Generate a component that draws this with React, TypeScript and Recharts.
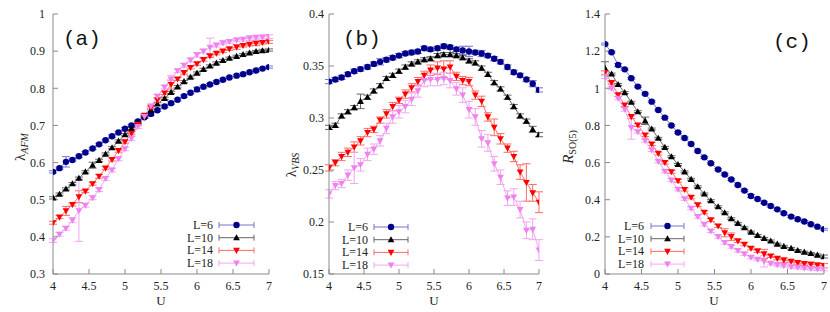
import React from "react";
import { ComposedChart, Line, XAxis, YAxis, ErrorBar } from "recharts";

// U grid (34 points from 4 to 7)
const U = [
  4.0, 4.09, 4.18, 4.27, 4.36, 4.45, 4.55, 4.64, 4.73, 4.82, 4.91, 5.0, 5.09, 5.18, 5.27, 5.36, 5.45,
  5.55, 5.64, 5.73, 5.82, 5.91, 6.0, 6.09, 6.18, 6.27, 6.36, 6.45, 6.55, 6.64, 6.73, 6.82, 6.91, 7.0,
];
const U_TICKS = [4, 4.5, 5, 5.5, 6, 6.5, 7];

// (a) lambda_AFM
const afm6 = [0.575,0.585,0.602,0.607,0.617,0.627,0.638,0.649,0.660,0.671,0.681,0.691,0.700,0.711,0.722,0.731,0.741,0.751,0.760,0.769,0.779,0.788,0.797,0.804,0.810,0.817,0.823,0.829,0.834,0.838,0.843,0.848,0.853,0.857];
const afm10 = [0.505,0.515,0.529,0.543,0.558,0.575,0.593,0.606,0.623,0.640,0.658,0.675,0.692,0.708,0.724,0.741,0.758,0.773,0.789,0.804,0.818,0.830,0.841,0.851,0.860,0.868,0.875,0.881,0.886,0.891,0.895,0.899,0.901,0.903];
const afm14 = [0.438,0.453,0.470,0.487,0.508,0.523,0.543,0.563,0.585,0.608,0.632,0.656,0.679,0.703,0.727,0.748,0.768,0.787,0.810,0.825,0.842,0.856,0.866,0.877,0.887,0.894,0.900,0.906,0.911,0.915,0.918,0.921,0.923,0.925];
const afm18 = [0.390,0.407,0.423,0.445,0.470,0.485,0.505,0.527,0.557,0.580,0.610,0.637,0.665,0.697,0.724,0.752,0.778,0.803,0.825,0.847,0.862,0.876,0.890,0.900,0.910,0.916,0.922,0.926,0.930,0.932,0.935,0.937,0.938,0.939];
const afmErr6 = [0.003,0.003,0.014,0.003,0.003,0.003,0.003,0.003,0.003,0.003,0.003,0.003,0.003,0.003,0.003,0.003,0.003,0.003,0.003,0.003,0.003,0.003,0.006,0.003,0.003,0.003,0.003,0.003,0.003,0.003,0.003,0.003,0.003,0.003];
const afmErr10 = [0.003,0.003,0.003,0.003,0.003,0.003,0.008,0.003,0.003,0.003,0.003,0.003,0.003,0.003,0.003,0.003,0.003,0.003,0.003,0.003,0.003,0.003,0.003,0.003,0.003,0.003,0.003,0.003,0.003,0.003,0.003,0.003,0.004,0.003];
const afmErr14 = [0.004,0.004,0.012,0.004,0.016,0.004,0.004,0.005,0.004,0.004,0.004,0.004,0.004,0.004,0.004,0.004,0.006,0.004,0.012,0.004,0.004,0.004,0.004,0.004,0.004,0.004,0.004,0.004,0.006,0.004,0.004,0.006,0.004,0.004];
const afmErr18 = [0.005,0.005,0.005,0.006,0.082,0.005,0.005,0.005,0.005,0.005,0.005,0.005,0.005,0.005,0.005,0.005,0.006,0.005,0.010,0.005,0.005,0.005,0.006,0.005,0.025,0.005,0.005,0.005,0.005,0.005,0.006,0.005,0.005,0.005];
const AFM_TICKS = [0.3, 0.4, 0.5, 0.6, 0.7, 0.8, 0.9, 1];

// (b) lambda_VBS
const vbs6 = [0.335,0.337,0.339,0.342,0.345,0.347,0.349,0.352,0.354,0.356,0.358,0.360,0.362,0.363,0.364,0.367,0.366,0.367,0.369,0.368,0.366,0.365,0.364,0.363,0.362,0.360,0.357,0.354,0.349,0.344,0.341,0.337,0.333,0.327];
const vbs10 = [0.291,0.293,0.302,0.306,0.310,0.316,0.320,0.326,0.331,0.338,0.341,0.345,0.349,0.352,0.354,0.356,0.357,0.360,0.361,0.361,0.360,0.358,0.355,0.353,0.348,0.342,0.334,0.328,0.320,0.311,0.302,0.297,0.289,0.284];
const vbs14 = [0.252,0.257,0.263,0.267,0.272,0.278,0.286,0.289,0.298,0.304,0.311,0.317,0.323,0.329,0.335,0.341,0.346,0.348,0.347,0.349,0.340,0.336,0.335,0.322,0.316,0.301,0.291,0.280,0.271,0.263,0.248,0.238,0.228,0.219];
const vbs18 = [0.227,0.235,0.237,0.245,0.252,0.255,0.265,0.270,0.278,0.290,0.301,0.306,0.311,0.318,0.326,0.336,0.337,0.337,0.338,0.336,0.328,0.322,0.308,0.301,0.280,0.276,0.256,0.243,0.223,0.224,0.212,0.192,0.193,0.173];
const vbsErr6 = [0.002,0.002,0.002,0.002,0.002,0.002,0.002,0.002,0.003,0.002,0.002,0.002,0.002,0.002,0.002,0.002,0.002,0.002,0.002,0.002,0.002,0.004,0.005,0.002,0.003,0.002,0.002,0.002,0.002,0.002,0.002,0.002,0.003,0.002];
const vbsErr10 = [0.002,0.002,0.002,0.002,0.002,0.007,0.002,0.002,0.002,0.002,0.002,0.002,0.002,0.002,0.002,0.002,0.002,0.002,0.002,0.002,0.002,0.002,0.002,0.002,0.002,0.002,0.002,0.002,0.002,0.002,0.002,0.002,0.003,0.002];
const vbsErr14 = [0.003,0.003,0.004,0.004,0.005,0.004,0.004,0.003,0.003,0.004,0.004,0.003,0.004,0.004,0.004,0.004,0.005,0.006,0.008,0.006,0.004,0.004,0.004,0.004,0.005,0.004,0.008,0.005,0.004,0.005,0.007,0.018,0.008,0.010];
const vbsErr18 = [0.004,0.004,0.004,0.005,0.015,0.006,0.006,0.005,0.005,0.005,0.006,0.006,0.006,0.006,0.006,0.006,0.006,0.006,0.006,0.007,0.006,0.007,0.008,0.008,0.008,0.008,0.007,0.007,0.007,0.008,0.008,0.008,0.010,0.010];
const VBS_TICKS = [0.15, 0.2, 0.25, 0.3, 0.35, 0.4];

// (c) R_SO(5)
const rso6 = [1.238,1.194,1.125,1.102,1.054,1.009,0.970,0.928,0.883,0.842,0.800,0.762,0.732,0.700,0.662,0.628,0.596,0.563,0.536,0.509,0.479,0.449,0.420,0.404,0.384,0.366,0.348,0.327,0.309,0.295,0.283,0.268,0.255,0.241];
const rso10 = [1.108,1.077,1.021,0.977,0.925,0.874,0.825,0.781,0.731,0.682,0.632,0.590,0.550,0.510,0.470,0.431,0.395,0.362,0.330,0.298,0.273,0.249,0.226,0.208,0.192,0.178,0.161,0.149,0.138,0.127,0.118,0.111,0.102,0.094];
const rso14 = [1.084,1.030,0.964,0.910,0.847,0.802,0.748,0.700,0.649,0.600,0.550,0.502,0.455,0.413,0.372,0.332,0.291,0.258,0.222,0.201,0.178,0.160,0.138,0.124,0.108,0.097,0.084,0.075,0.068,0.061,0.056,0.052,0.048,0.045];
const rso18 = [1.063,1.000,0.946,0.887,0.788,0.766,0.718,0.668,0.606,0.553,0.505,0.456,0.405,0.354,0.309,0.267,0.231,0.201,0.169,0.147,0.126,0.108,0.090,0.079,0.068,0.057,0.050,0.045,0.039,0.036,0.032,0.029,0.027,0.025];
const rsoErr6 = [0.005,0.005,0.008,0.005,0.005,0.005,0.005,0.005,0.005,0.005,0.005,0.005,0.005,0.005,0.005,0.005,0.005,0.005,0.005,0.005,0.005,0.005,0.008,0.005,0.005,0.005,0.005,0.005,0.005,0.005,0.005,0.005,0.005,0.005];
const rsoErr10 = [0.035,0.005,0.005,0.005,0.005,0.005,0.020,0.005,0.005,0.005,0.005,0.005,0.005,0.005,0.005,0.005,0.005,0.005,0.005,0.005,0.005,0.005,0.005,0.005,0.005,0.005,0.005,0.005,0.005,0.005,0.005,0.005,0.006,0.008];
const rsoErr14 = [0.010,0.008,0.008,0.008,0.010,0.008,0.008,0.008,0.008,0.008,0.008,0.008,0.008,0.008,0.008,0.008,0.008,0.008,0.022,0.020,0.008,0.008,0.008,0.008,0.025,0.008,0.008,0.012,0.008,0.008,0.010,0.012,0.012,0.012];
const rsoErr18 = [0.010,0.008,0.008,0.010,0.062,0.008,0.008,0.008,0.008,0.008,0.008,0.008,0.008,0.008,0.008,0.008,0.008,0.008,0.008,0.008,0.008,0.008,0.008,0.008,0.030,0.008,0.008,0.008,0.008,0.008,0.008,0.008,0.008,0.008];
const RSO_TICKS = [0, 0.2, 0.4, 0.6, 0.8, 1, 1.2, 1.4];

const LEGEND_NAMES = ["L=6", "L=10", "L=14", "L=18"];

const STYLES = [
  { marker: "circle", fill: "#00008b", line: "#7575d2" },
  { marker: "up", fill: "#000000", line: "#666666" },
  { marker: "down", fill: "#ff0000", line: "#ff6a6a" },
  { marker: "down", fill: "#ee82ee", line: "#f1a6f1" },
];

const SERIF = "'Liberation Serif', 'DejaVu Serif', serif";
const AXIS = "#8a8a8a";

function Marker({ kind, cx, cy, fill }: { kind: string; cx: number; cy: number; fill: string }) {
  if (kind === "circle") return <circle cx={cx} cy={cy} r={3.2} fill={fill} />;
  if (kind === "up")
    return <polygon points={`${cx},${cy - 3.5} ${cx - 3.4},${cy + 2.6} ${cx + 3.4},${cy + 2.6}`} fill={fill} />;
  return <polygon points={`${cx - 3.4},${cy - 2.6} ${cx + 3.4},${cy - 2.6} ${cx},${cy + 3.5}`} fill={fill} />;
}

const makeDot = (kind: string, fill: string) => (p: any) => {
  const { cx, cy, index } = p;
  if (cx == null || cy == null) return <g key={`d${index}`} />;
  return (
    <g key={`d${index}`}>
      <Marker kind={kind} cx={cx} cy={cy} fill={fill} />
    </g>
  );
};

const PANELS = [
  {
    id: "a", left: 0, width: 280, yw: 53, right: 11, tm: 13,
    domain: [0.3, 1], ticks: AFM_TICKS,
    series: [afm6, afm10, afm14, afm18], errs: [afmErr6, afmErr10, afmErr14, afmErr18],
  },
  {
    id: "b", left: 280, width: 275, yw: 49, right: 16, tm: 10,
    domain: [0.15, 0.4], ticks: VBS_TICKS,
    series: [vbs6, vbs10, vbs14, vbs18], errs: [vbsErr6, vbsErr10, vbsErr14, vbsErr18],
  },
  {
    id: "c", left: 555, width: 275, yw: 50, right: 6, tm: 10,
    domain: [0, 1.4], ticks: RSO_TICKS,
    series: [rso6, rso10, rso14, rso18], errs: [rsoErr6, rsoErr10, rsoErr14, rsoErr18],
  },
];

function Panel({ cfg }: { cfg: any }) {
  const rows = U.map((u, i) => {
    const r: any = { u };
    cfg.series.forEach((s: number[], k: number) => {
      r[`y${k}`] = s[i];
      r[`e${k}`] = cfg.errs[k][i];
    });
    return r;
  });
  const tick = { fontFamily: SERIF, fontSize: 12, fill: "#222" };
  return (
    <div style={{ position: "absolute", left: cfg.left, top: 0 }}>
      <ComposedChart width={cfg.width} height={312} data={rows} margin={{ top: 14, right: cfg.right, bottom: 0, left: 0 }}>
        <XAxis dataKey="u" type="number" domain={[4, 7]} ticks={U_TICKS} interval={0} height={38}
          tickSize={-5} tickMargin={12} stroke={AXIS} tick={tick} allowDataOverflow />
        <XAxis xAxisId="top" orientation="top" dataKey="u" type="number" domain={[4, 7]} ticks={U_TICKS}
          interval={0} height={0} tickSize={-5} tickFormatter={() => ""} stroke={AXIS} allowDataOverflow />
        <YAxis type="number" domain={cfg.domain} ticks={cfg.ticks} interval={0} width={cfg.yw}
          tickSize={-5} tickMargin={cfg.tm} stroke={AXIS} tick={tick} allowDataOverflow />
        <YAxis yAxisId="right" orientation="right" type="number" domain={cfg.domain} ticks={cfg.ticks}
          interval={0} width={0} tickSize={-5} tickFormatter={() => ""} stroke={AXIS} allowDataOverflow />
        {STYLES.map((st, k) => (
          <Line key={k} dataKey={`y${k}`} type="linear" stroke={st.line} strokeWidth={1}
            dot={makeDot(st.marker, st.fill)} activeDot={false} isAnimationActive={false}>
            <ErrorBar dataKey={`e${k}`} width={4} stroke={st.line} strokeWidth={1} direction="y" />
          </Line>
        ))}
      </ComposedChart>
    </div>
  );
}

const LEGENDS = [
  { textRight: 213, x1: 219, x2: 254, rows: [225, 237.7, 250.4, 263.1] },
  { textRight: 368, x1: 374, x2: 408, rows: [227, 239.7, 252.4, 265.1] },
  { textRight: 644, x1: 651, x2: 684, rows: [226, 238.7, 251.4, 264.1] },
];

function Overlay() {
  return (
    <svg width={830} height={312} style={{ position: "absolute", left: 0, top: 0, pointerEvents: "none" }}>
      {/* panel letters */}
      <g fontFamily="'Liberation Mono', 'DejaVu Sans Mono', monospace" fontSize={21} fill="#111">
        <text x={63} y={45}>(a)</text>
        <text x={343} y={45}>(b)</text>
        <text x={773} y={48}>(c)</text>
      </g>
      {/* x titles */}
      <g fontFamily={SERIF} fontSize={13} fill="#222" textAnchor="middle">
        <text x={161} y={305}>U</text>
        <text x={434} y={305}>U</text>
        <text x={714} y={305}>U</text>
      </g>
      {/* y titles */}
      <g fontFamily={SERIF} fill="#222">
        <text x={25} y={147} textAnchor="middle" transform="rotate(-90 25 147)" fontSize={15}>
          λ<tspan fontSize={10} fontStyle="italic" dy={3}>AFM</tspan>
        </text>
        <text x={296} y={165} textAnchor="middle" transform="rotate(-90 296 165)" fontSize={15}>
          λ<tspan fontSize={10} fontStyle="italic" dy={3}>VBS</tspan>
        </text>
        <text x={573} y={147} textAnchor="middle" transform="rotate(-90 573 147)" fontSize={15}>
          <tspan fontStyle="italic">R</tspan>
          <tspan fontSize={10} dy={3}>SO(5)</tspan>
        </text>
      </g>
      {/* legends */}
      {LEGENDS.map((lg, p) => (
        <g key={p}>
          {lg.rows.map((y, k) => {
            const st = STYLES[k];
            const mx = (lg.x1 + lg.x2) / 2;
            return (
              <g key={k}>
                <text x={lg.textRight} y={y + 4} textAnchor="end" fontFamily={SERIF} fontSize={12} fill="#222">
                  {LEGEND_NAMES[k]}
                </text>
                <line x1={lg.x1} x2={lg.x2} y1={y} y2={y} stroke={st.line} strokeWidth={1} />
                <line x1={lg.x1} x2={lg.x1} y1={y - 3} y2={y + 3} stroke={st.line} strokeWidth={1} />
                <line x1={lg.x2} x2={lg.x2} y1={y - 3} y2={y + 3} stroke={st.line} strokeWidth={1} />
                <Marker kind={st.marker} cx={mx} cy={y} fill={st.fill} />
              </g>
            );
          })}
        </g>
      ))}
    </svg>
  );
}

export default function App() {
  return (
    <div style={{ position: "absolute", left: 0, top: 0, width: 830, height: 312, background: "#fff" }}>
      {PANELS.map((cfg) => (
        <Panel key={cfg.id} cfg={cfg} />
      ))}
      <Overlay />
    </div>
  );
}
